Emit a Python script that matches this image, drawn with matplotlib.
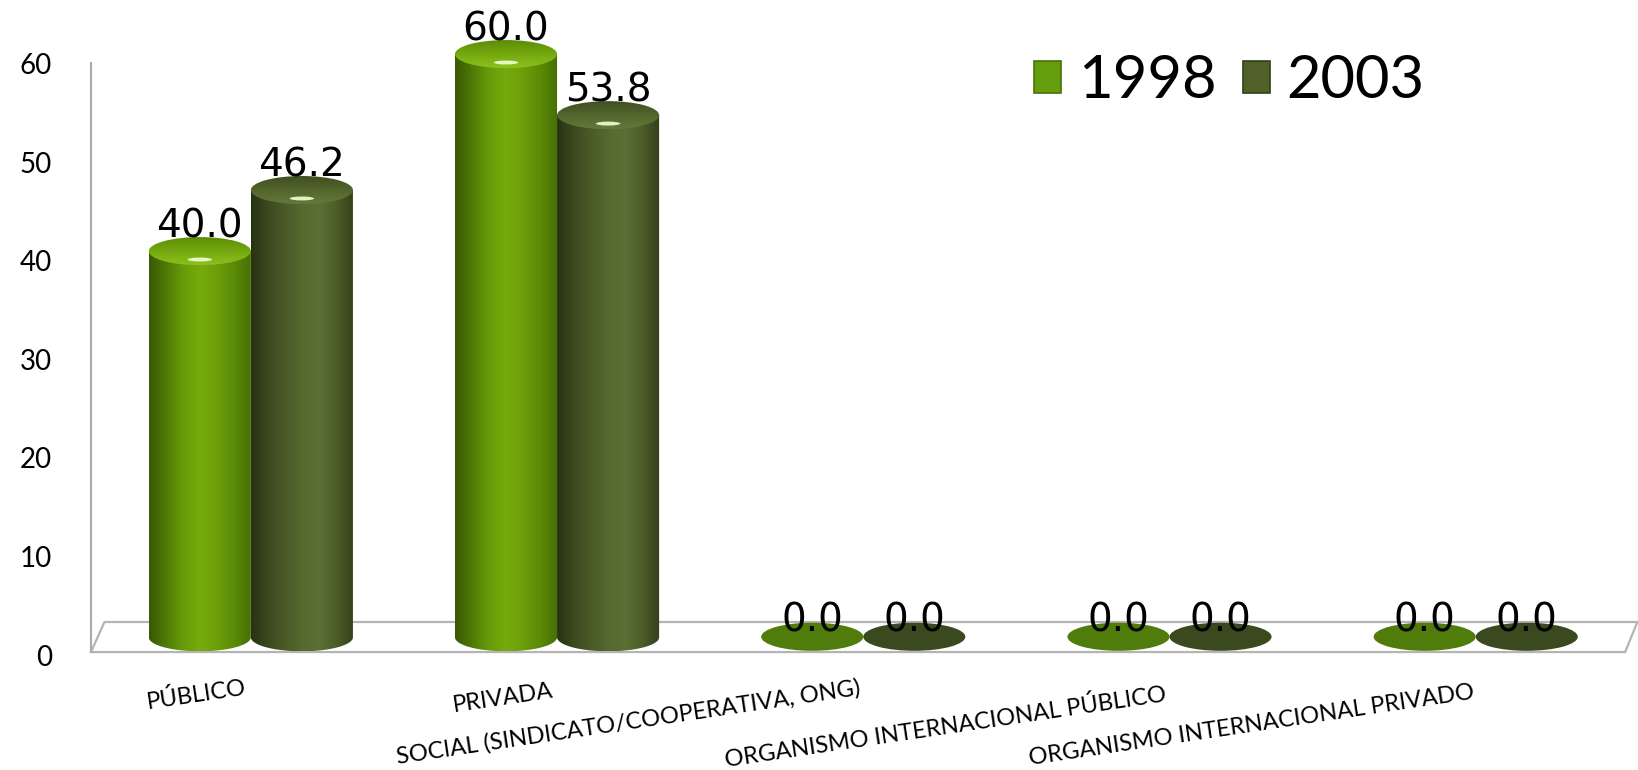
import numpy as np
import matplotlib
matplotlib.use("Agg")
import matplotlib.pyplot as plt
from matplotlib.patches import Polygon, Ellipse, Patch
from matplotlib.colors import LinearSegmentedColormap

# ---------------- data ----------------
categories = ["PÚBLICO", "PRIVADA", "SOCIAL (SINDICATO/COOPERATIVA, ONG)",
              "ORGANISMO INTERNACIONAL PÚBLICO", "ORGANISMO INTERNACIONAL PRIVADO"]
series_names = ["1998", "2003"]
values_1998 = [40.0, 60.0, 0.0, 0.0, 0.0]
values_2003 = [46.2, 53.8, 0.0, 0.0, 0.0]
yticks = [0, 10, 20, 30, 40, 50, 60]

# ---------------- style ----------------
body_stops = {
    "1998": ["#3a5804", "#4e7a06", "#689c0a", "#76ab0c", "#6c9e0a", "#5a8a07", "#466e05"],
    "2003": ["#283213", "#3b4a1f", "#4a5b28", "#56692f", "#5b6e33", "#4c5d29", "#333f1a"],
}
cap_stops = {
    "1998": ["#5a8a08", "#74a80e", "#8cc020"],
    "2003": ["#3e4d20", "#52652c", "#63793a"],
}
flat_color = {"1998": "#4f7c0a", "2003": "#3b4a1e"}
legend_face = {"1998": "#649e0c", "2003": "#4f6128"}
legend_edge = {"1998": "#4a7005", "2003": "#33401a"}

BAR_W = 1.0 / 3.0
ELL_H = 2.85      # ellipse height in data units
TOP_OFF = 1.0     # cap centre above value
BOT_C = 1.8       # bottom ellipse centre
FLAT_C = 1.85     # centre of zero-height discs
LABEL_OFF = 2.4   # label baseline above value

label_dx = [-6, -6, -5, -5, -3]
label_dy = [-21, -25, -22, -28, -27]
LABEL_ROT = 8.5

fig = plt.figure(figsize=(16.38, 7.70), dpi=100)
ax = fig.add_axes([91 / 1638, (770 - 655) / 770, 1547 / 1638, 620.6 / 770])
ax.set_autoscale_on(False)
XLIM = (-0.522, 4.53)
YLIM = (0, 63)
ax.set_xlim(*XLIM)
ax.set_ylim(*YLIM)
for s in ax.spines.values():
    s.set_visible(False)

# floor (3D-style parallelogram) and value axis line
floor = Polygon([(-0.522, 0.3), (-0.478, 3.35), (4.528, 3.35), (4.488, 0.3)],
                closed=True, fc="white", ec="#b4b4b4", lw=1.6, zorder=1, clip_on=False)
ax.add_patch(floor)
ax.plot([-0.522, -0.522], [0.3, 60.1], color="#aaaaaa", lw=1.5, zorder=1, clip_on=False)


def hgrad(stops, n=256):
    cmap = LinearSegmentedColormap.from_list("g", stops)
    return cmap(np.linspace(0, 1, n))[None, :, :]


def vgrad(stops, n=128):
    cmap = LinearSegmentedColormap.from_list("g", stops)
    return cmap(np.linspace(0, 1, n))[:, None, :]


def cylinder(xc, v, name):
    x0, x1 = xc - BAR_W / 2, xc + BAR_W / 2
    if v <= 0:
        ax.add_patch(Ellipse((xc, FLAT_C), BAR_W, ELL_H, fc=flat_color[name],
                             ec="none", zorder=3))
        return
    yt = v + TOP_OFF
    yb = BOT_C
    th = np.linspace(np.pi, 2 * np.pi, 80)
    pts = [(xc + BAR_W / 2 * np.cos(t), yb + ELL_H / 2 * np.sin(t)) for t in th]
    pts += [(x1, yt), (x0, yt)]
    poly = Polygon(pts, closed=True, transform=ax.transData)
    im = ax.imshow(hgrad(body_stops[name]), extent=[x0, x1, yb - ELL_H / 2, yt],
                   aspect="auto", interpolation="bilinear", zorder=3, origin="lower")
    im.set_clip_path(poly)
    # cap
    cap = Ellipse((xc, yt), BAR_W, ELL_H, transform=ax.transData)
    im2 = ax.imshow(vgrad(cap_stops[name]), extent=[x0, x1, yt - ELL_H / 2, yt + ELL_H / 2],
                    aspect="auto", interpolation="bilinear", zorder=4, origin="upper")
    im2.set_clip_path(cap)
    # highlight
    ax.add_patch(Ellipse((xc, yt - ELL_H * 0.30), BAR_W * 0.24, ELL_H * 0.14,
                         fc="#f2ffd8", ec="none", alpha=0.9, zorder=5))


x = np.arange(len(categories))
for k, (name, vals) in enumerate(zip(series_names, [values_1998, values_2003])):
    offs = (k - 0.5) * BAR_W
    for i, v in enumerate(vals):
        cylinder(x[i] + offs, v, name)
        ax.text(x[i] + offs, v + LABEL_OFF, f"{v:.1f}", ha="center", va="baseline",
                fontsize=28, family="DejaVu Sans", color="black", zorder=6)

ax.set_xlim(*XLIM)
ax.set_ylim(*YLIM)

# axes ticks
ax.set_xticks([])
ax.set_yticks(yticks)
ax.set_yticklabels([str(t) for t in yticks], family="Lato", fontsize=20)
ax.tick_params(axis="y", length=0, pad=28)

# category labels
for i, c in enumerate(categories):
    ax.annotate(c, xy=(x[i], 0), xycoords="data", xytext=(label_dx[i], label_dy[i]),
                textcoords="offset pixels", rotation=LABEL_ROT, rotation_mode="anchor",
                ha="right", va="top", family="Lato", fontsize=17,
                annotation_clip=False)

# legend
handles = [Patch(fc=legend_face[n], ec=legend_edge[n], lw=1.2) for n in series_names]
fig.legend(handles, series_names, loc="center left",
           bbox_to_anchor=(1034 / 1638, 1 - 81 / 770), ncol=2, frameon=False,
           prop={"family": "Lato", "size": 43}, handlelength=0.45, handleheight=0.45,
           handletextpad=0.28, columnspacing=0.45, borderpad=0, borderaxespad=0)

fig.savefig("out.png", dpi=100, facecolor="white")
